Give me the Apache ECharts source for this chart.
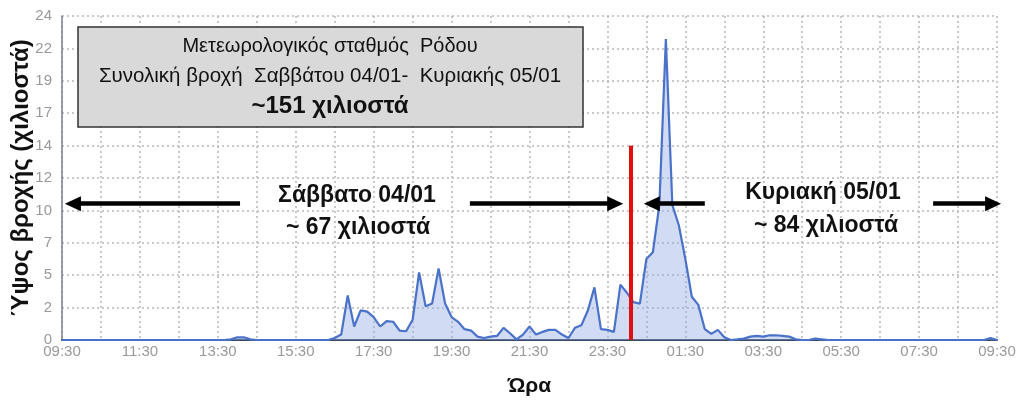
<!DOCTYPE html>
<html>
<head>
<meta charset="utf-8">
<script src="https://cdn.jsdelivr.net/npm/echarts@6/dist/echarts.min.js"></script>
<style>html,body{margin:0;padding:0;background:#fff;}#c{width:1024px;height:401px;}</style>
</head>
<body>
<div id="c"></div>
<script>
// Tick labels every 2 hours, 09:30 Saturday -> 09:30 Sunday
const tickLabels = ['09:30','11:30','13:30','15:30','17:30','19:30','21:30','23:30','01:30','03:30','05:30','07:30','09:30'];
const stepHours = 1 / 6; // 10-minute readings
// Rain per 10 minutes (mm)
const rain = [
  0,0,0,0,0,0,0,0,0,0, 0,0,0,0,0,0,0,0,0,0, 0,0,0,0,0,0,
  0.05,0.2,0.2,0.05,
  0,0,0,0,0,0,0,0,0,0,0,0,
  0.15,0.4,3.3,1.0,2.2,2.1,1.7,1.0,1.4,1.35,
  0.7,0.65,1.5,5.0,2.5,2.7,5.3,2.7,1.7,1.35,
  0.8,0.7,0.25,0.15,0.25,0.3,0.9,0.5,0.05,0.4,
  1.0,0.4,0.6,0.75,0.75,0.4,0.15,0.9,1.1,2.2,
  3.9,0.8,0.75,0.6,4.1,3.5,2.8,2.7,6.0,6.5,
  10.0,22.3,10.0,8.5,6.0,3.2,2.6,0.8,0.45,0.75,
  0.2,0,0.05,0.1,0.25,0.3,0.25,0.35,0.35,0.3,
  0.25,0.05,0,0,0.1,0.05,
  0,0,0,0,0,0,0,0,0,0, 0,0,0,0,0,0,0,0,0,0, 0,0,0,0,0,
  0.15,0
];
const titleLines = ['Μετεωρολογικός σταθμός  Ρόδου', 'Συνολική βροχή  Σαββάτου 04/01-  Κυριακής 05/01', '~151 χιλιοστά'];
const dayLabels = [['Σάββατο 04/01', '~ 67 χιλιοστά'], ['Κυριακή 05/01', '~ 84 χιλιοστά']];
const midnightHour = 14.6;
const midnightLineTop = 14.4;
const arrowLevel = 10.1;
const arrows = [[4.57, 0.28], [10.47, 14.2], [16.5, 15.14], [22.36, 23.9]];

const seriesData = rain.map((v, i) => [i * stepHours, v]);
const font = '"Liberation Sans", Arial, sans-serif';

const chart = echarts.init(document.getElementById('c'));
chart.setOption({
  animation: false,
  grid: { left: 62, right: 27, top: 16, bottom: 61, containLabel: false, outerBoundsMode: 'none' },
  xAxis: {
    type: 'value', min: 0, max: 24, interval: 1,
    name: 'Ώρα', nameLocation: 'middle', nameGap: 36, nameMoveOverlap: false,
    nameTextStyle: { fontFamily: font, fontWeight: 'bold', fontSize: 21, color: '#111' },
    axisLine: { lineStyle: { color: '#3a4a66', width: 2 } },
    axisTick: { show: false },
    axisLabel: {
      color: '#999', fontFamily: font, fontSize: 15, margin: 4, showMinLabel: true, showMaxLabel: true,
      formatter: v => (Math.round(v) % 2 === 0 ? tickLabels[Math.round(v) / 2] : '')
    },
    splitLine: { show: true, lineStyle: { color: '#b8b8b8', type: [2, 3], width: 1.5 } }
  },
  yAxis: {
    type: 'value', min: 0, max: 24, interval: 2.4,
    name: 'Ύψος βροχής (χιλιοστά)', nameLocation: 'middle', nameGap: 29, nameRotate: 90, nameMoveOverlap: false,
    nameTextStyle: { fontFamily: font, fontWeight: 'bold', fontSize: 24, color: '#111' },
    axisLine: { show: true, lineStyle: { color: '#7a8290', width: 1.5 } },
    axisTick: { show: false },
    axisLabel: { color: '#999', fontFamily: font, fontSize: 15, margin: 10, formatter: v => String(Math.round(v)) },
    splitLine: { show: true, lineStyle: { color: '#b8b8b8', type: [2, 3], width: 1.5 } }
  },
  series: [{
    type: 'line', data: seriesData, showSymbol: false, smooth: false,
    lineStyle: { color: '#4a72c8', width: 2.2 },
    areaStyle: { color: 'rgba(145,170,226,0.6)' },
    z: 3,
    markLine: {
      silent: true, animation: false,
      label: { show: false },
      data: [
        [{ coord: [midnightHour, 0], symbol: 'none', lineStyle: { color: '#e01010', width: 4, type: 'solid' } },
         { coord: [midnightHour, midnightLineTop], symbol: 'none' }]
      ].concat(arrows.map(a => [
        { coord: [a[0], arrowLevel], symbol: 'none', lineStyle: { color: '#000', width: 4.5, type: 'solid' } },
        { coord: [a[1], arrowLevel], symbol: 'triangle', symbolSize: [15, 16] }
      ]))
    }
  }],
  graphic: [
    { type: 'rect', shape: { x: 78, y: 27, width: 505, height: 100 }, style: { fill: '#d9d9d9', stroke: '#333', lineWidth: 1.5 }, z: 10 },
    { type: 'text', x: 330, y: 46, style: { text: titleLines[0], font: '20px ' + font, fill: '#111', textAlign: 'center', textVerticalAlign: 'middle' }, z: 11 },
    { type: 'text', x: 330, y: 76, style: { text: titleLines[1], font: '20.5px ' + font, fill: '#111', textAlign: 'center', textVerticalAlign: 'middle' }, z: 11 },
    { type: 'text', x: 330, y: 106, style: { text: titleLines[2], font: 'bold 24px ' + font, fill: '#111', textAlign: 'center', textVerticalAlign: 'middle' }, z: 11 },
    { type: 'text', x: 357, y: 196, style: { text: dayLabels[0][0], font: 'bold 23px ' + font, fill: '#111', textAlign: 'center', textVerticalAlign: 'middle' }, z: 11 },
    { type: 'text', x: 358, y: 228, style: { text: dayLabels[0][1], font: 'bold 23px ' + font, fill: '#111', textAlign: 'center', textVerticalAlign: 'middle' }, z: 11 },
    { type: 'text', x: 823, y: 193, style: { text: dayLabels[1][0], font: 'bold 23px ' + font, fill: '#111', textAlign: 'center', textVerticalAlign: 'middle' }, z: 11 },
    { type: 'text', x: 826, y: 226, style: { text: dayLabels[1][1], font: 'bold 23px ' + font, fill: '#111', textAlign: 'center', textVerticalAlign: 'middle' }, z: 11 }
  ]
});
</script>
</body>
</html>
